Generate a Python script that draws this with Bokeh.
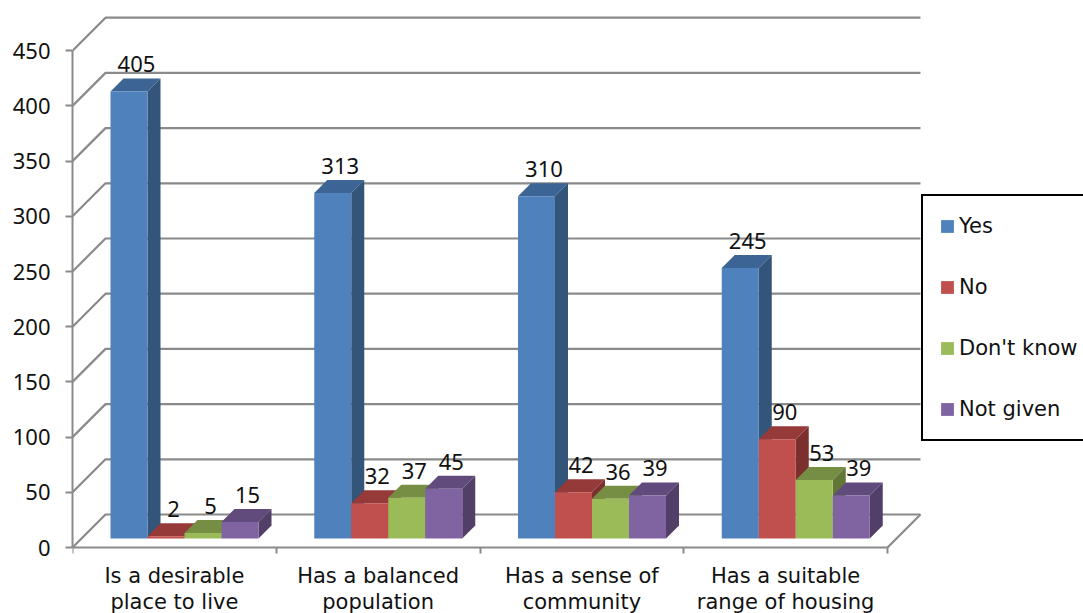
from bokeh.plotting import figure
from bokeh.embed import file_html
from bokeh.resources import INLINE
from bokeh.core.properties import value
from bokeh.models import FixedTicker, Legend, LegendItem

categories = ["Is a desirable\nplace to live", "Has a balanced\npopulation",
              "Has a sense of\ncommunity", "Has a suitable\nrange of housing"]
series = ["Yes", "No", "Don't know", "Not given"]
yes = [405, 313, 310, 245]
no = [2, 32, 42, 90]
dont_know = [5, 37, 36, 53]
not_given = [15, 45, 39, 39]
y_ticks = [0, 50, 100, 150, 200, 250, 300, 350, 400, 450]
front_colors = ["#4F81BD", "#C0504D", "#9BBB59", "#8064A2"]
top_colors = ["#3C6494", "#953A38", "#768E44", "#614B7C"]
side_colors = ["#325579", "#7B302E", "#627636", "#523F68"]
GRID = "#8A8A8A"
NUM_FONT = "Noto Sans"
TXT_FONT = "DejaVu Sans"
FS = "21px"
NUM_FS = "22px"

W, H = 1083, 613
LEFT, BOTTOM = 72, 66
GROUP_PX, UNIT_PX = 203.75, 1.104
fw, fh = W - LEFT, H - BOTTOM
xmax, ymax, ymin = fw / GROUP_PX, fh / UNIT_PX, -BOTTOM / UNIT_PX


def px_x(n):
    return n / GROUP_PX


def px_y(n):
    return n / UNIT_PX


p = figure(width=W, height=H, margin=0, output_backend="svg", toolbar_location=None,
           x_range=(0, xmax), y_range=(ymin, ymax), min_border_left=LEFT, min_border_bottom=0,
           min_border_top=0, min_border_right=0, background_fill_color="white",
           border_fill_color="white", outline_line_color=None)
p.grid.visible = False

# walls and floor
wall_x, wall_y = px_x(33), px_y(33)
n_cat = len(categories)
gx = [[0, wall_x, n_cat + wall_x] for t in y_ticks]
gy = [[t, t + wall_y, t + wall_y] for t in y_ticks]
gx.append([n_cat, n_cat + wall_x])
gy.append([0, wall_y])
p.multi_line(gx, gy, line_color=GRID, line_width=2.2)

# bars
pad, bar_w = px_x(38), px_x(37)
lift = px_y(9)
dx, dy = px_x(13), px_y(13)
items = []
label_x, label_y, label_t = [], [], []
for s, vals in enumerate([yes, no, dont_know, not_given]):
    l = [i + pad + s * bar_w for i in range(n_cat)]
    r = [a + bar_w for a in l]
    b = [lift for _ in vals]
    t = [lift + v for v in vals]
    p.patches([[a, a + dx, c + dx, c] for a, c in zip(l, r)],
              [[y, y + dy, y + dy, y] for y in t],
              fill_color=top_colors[s], line_color=None)
    p.patches([[c, c + dx, c + dx, c] for c in r],
              [[y0, y0 + dy, y1 + dy, y1] for y0, y1 in zip(b, t)],
              fill_color=side_colors[s], line_color=None)
    front = p.quad(left=l, right=r, bottom=b, top=t, fill_color=front_colors[s], line_color=None)
    items.append(LegendItem(label=series[s], renderers=[front]))
    label_x += [(a + c) / 2 for a, c in zip(l, r)]
    label_y += t
    label_t += [str(v) for v in vals]

p.text(label_x, label_y, text=label_t, x_offset=7.5, y_offset=-27, text_align="center",
       text_baseline="alphabetic", text_font=value(NUM_FONT), text_font_size=value(NUM_FS),
       text_color="#111111")

# axes
ya = p.yaxis[0]
ya.ticker = FixedTicker(ticks=y_ticks)
ya.bounds = (0, 450)
ya.axis_line_color = GRID
ya.axis_line_width = 2
ya.major_tick_line_color = GRID
ya.major_tick_line_width = 2
ya.major_tick_out = 7
ya.major_tick_in = 0
ya.minor_tick_out = 0
ya.minor_tick_in = 0
ya.major_label_standoff = 15
ya.major_label_text_font = NUM_FONT
ya.major_label_text_font_size = NUM_FS
ya.major_label_text_color = "#111111"

xa = p.xaxis[0]
centers = [i + 0.5 for i in range(n_cat)]
xa.fixed_location = 0
xa.ticker = FixedTicker(ticks=centers, minor_ticks=list(range(n_cat + 1)))
xa.major_label_overrides = {c: t for c, t in zip(centers, categories)}
xa.bounds = (0, n_cat)
xa.axis_line_color = GRID
xa.axis_line_width = 2
xa.major_tick_out = 0
xa.major_tick_in = 0
xa.minor_tick_line_color = GRID
xa.minor_tick_line_width = 2
xa.minor_tick_out = 6
xa.minor_tick_in = 0
xa.major_label_standoff = 10
xa.major_label_orientation = "horizontal"
xa.major_label_text_font = TXT_FONT
xa.major_label_text_font_size = FS
xa.major_label_text_line_height = 1.1
xa.major_label_text_color = "#111111"

legend = Legend(items=items, location=(849, 172), orientation="vertical",
                glyph_width=16, glyph_height=16, label_height=28, label_width=190,
                spacing=33, padding=16, margin=0, label_standoff=4,
                label_text_font=TXT_FONT, label_text_font_size=FS, label_text_color="#111111",
                border_line_color="black", border_line_width=2, border_line_alpha=1.0,
                background_fill_color="white", background_fill_alpha=1.0)
p.add_layout(legend)

open("out.html", "w").write(file_html(p, INLINE))
